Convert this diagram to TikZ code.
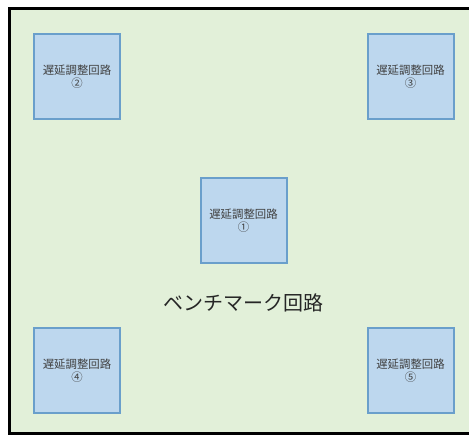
\documentclass[tikz,border=0pt]{standalone}
\usepackage{fontspec}
\newfontfamily\cjk{Noto Sans CJK JP}
\definecolor{outerfill}{HTML}{E2F0D9}
\definecolor{boxfill}{HTML}{BDD7EE}
\definecolor{boxline}{HTML}{6A9FCB}
\definecolor{boxtext}{HTML}{404040}
\definecolor{bigtext}{HTML}{262626}
\tikzset{
  delaybox/.style={draw=boxline, fill=boxfill, line width=2pt, minimum width=86pt, minimum height=85pt,
    inner sep=0pt, align=center, text=boxtext, font=\cjk\fontsize{11.4pt}{13pt}\selectfont},
  outerbox/.style={draw=black, fill=outerfill, line width=3pt}
}
\begin{document}
\begin{tikzpicture}[x=1pt,y=-1pt]
\useasboundingbox (0,0) rectangle (469,435);
\draw[outerbox] (9.5,8.5) rectangle (480,433.5);
\node[delaybox] (d2) at (77,77) {遅延調整回路\\②};
\node[delaybox] (d3) at (410.5,77) {遅延調整回路\\③};
\node[delaybox] (d1) at (243.5,221) {遅延調整回路\\①};
\node[delaybox] (d4) at (77,370.5) {遅延調整回路\\④};
\node[delaybox] (d5) at (410.5,370.5) {遅延調整回路\\⑤};
\node[text=bigtext, font=\cjk\fontsize{20pt}{22pt}\selectfont] (bench) at (243.5,303) {ベンチマーク回路};
\end{tikzpicture}
\end{document}
